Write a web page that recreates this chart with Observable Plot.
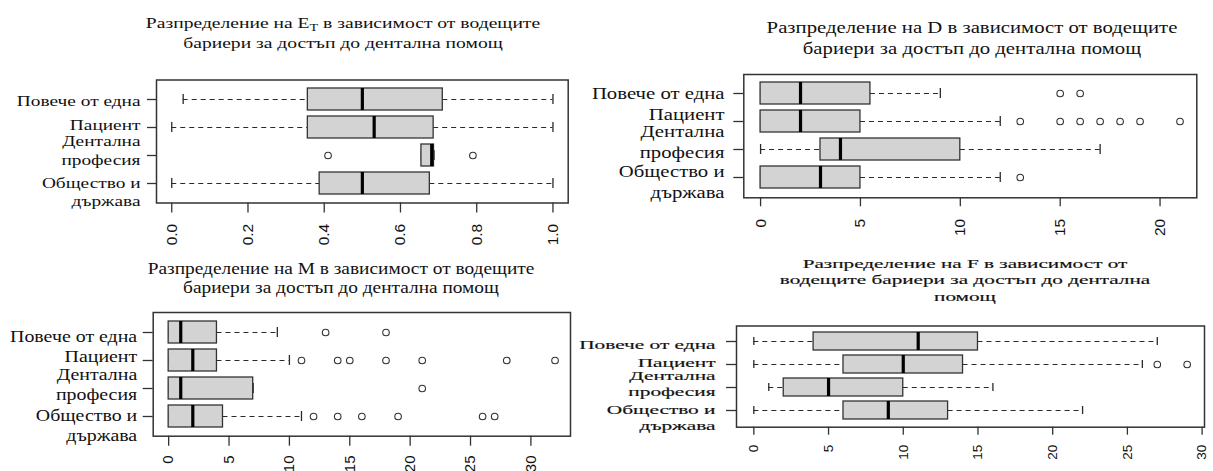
<!DOCTYPE html>
<html><head><meta charset="utf-8">
<script src="https://cdn.jsdelivr.net/npm/d3@7"></script>
<script src="https://cdn.jsdelivr.net/npm/@observablehq/plot@0.6"></script>
<style>
body{margin:0;background:#fff;}
#page{position:relative;width:1213px;height:471px;overflow:hidden;background:#fff;}
.panel{position:absolute;}
.title{position:absolute;width:640px;text-align:center;white-space:nowrap;color:#111;font-family:"Liberation Serif",serif;}
</style></head><body><div id="page"></div>
<script>
// ---- data ----
const categories = ["Повече от една", "Пациент", "Дентална професия", "Общество и държава"];
const categoryLabels = ["Повече от една", "Пациент", "Дентална\nпрофесия", "Общество и\nдържава"];

// E_T
const etLow = [0.03, 0, 0.655, 0];
const etQ1 = [0.357, 0.357, 0.655, 0.388];
const etMedian = [0.50, 0.531, 0.682, 0.50];
const etQ3 = [0.711, 0.687, 0.688, 0.677];
const etHigh = [1, 1, 0.688, 1];
const etOutliers = [[], [], [0.41, 0.79], []];
const etTicks = [0, 0.2, 0.4, 0.6, 0.8, 1.0];
const etTitle = ["Разпределение на E<span style=\"font-size:0.72em;position:relative;top:0.28em\">T</span> в зависимост от водещите", "бариери за достъп до дентална помощ"];

// D
const dLow = [0, 0, 0, 0];
const dQ1 = [0, 0, 3, 0];
const dMedian = [2, 2, 4, 3];
const dQ3 = [5.5, 5, 10, 5];
const dHigh = [9, 12, 17, 12];
const dOutliers = [[15, 16], [13, 15, 16, 17, 18, 19, 21], [], [13]];
const dTicks = [0, 5, 10, 15, 20];
const dTitle = ["Разпределение на D в зависимост от водещите", "бариери за достъп до дентална помощ"];

// M
const mLow = [0, 0, 0, 0];
const mQ1 = [0, 0, 0, 0];
const mMedian = [1, 2, 1, 2];
const mQ3 = [4, 4, 7, 4.5];
const mHigh = [9, 10, 7, 11];
const mOutliers = [[13, 18], [11, 14, 15, 18, 21, 28, 32], [21], [12, 14, 16, 19, 26, 27]];
const mTicks = [0, 5, 10, 15, 20, 25, 30];
const mTitle = ["Разпределение на M в зависимост от водещите", "бариери за достъп до дентална помощ"];

// F
const fLow = [0, 0, 1, 0];
const fQ1 = [4, 6, 2, 6];
const fMedian = [11, 10, 5, 9];
const fQ3 = [15, 14, 10, 13];
const fHigh = [27, 26, 16, 22];
const fOutliers = [[], [27, 29], [], []];
const fTicks = [0, 5, 10, 15, 20, 25, 30];
const fTitle = ["Разпределение на F в зависимост от", "водещите бариери за достъп до дентална", "помощ"];

// ---- layout / style ----
const panels = [
  {low: etLow, q1: etQ1, median: etMedian, q3: etQ3, high: etHigh, outliers: etOutliers, ticks: etTicks, fmt: d3.format(".1f"), title: etTitle,
   left: 0, top: 55, width: 590, height: 200, mt: 24.5, mr: 22.3, mb: 52.5, ml: 156,
   labelGap: 16, labelSize: 15, lineHeight: 1.22, stretch: 1.29, labelDy: [0.7, -3.7, -5.8, 7.7], heavy: 0,
   yTick: 9, xTick: 10, xPad: 10.8, tickFont: 15.5, cap: 6,
   t: {cx: 343, y1: 23.3, lh: 18.4, f: 15.3, s: 1.28, heavy: 0}},
  {low: dLow, q1: dQ1, median: dMedian, q3: dQ3, high: dHigh, outliers: dOutliers, ticks: dTicks, fmt: d3.format("d"), title: dTitle,
   left: 590, top: 55, width: 623, height: 200, mt: 19, mr: 16.7, mb: 57.7, ml: 153.3,
   labelGap: 19.3, labelSize: 17, lineHeight: 1.22, stretch: 1.22, labelDy: [-1.5, -8.5, -8.3, 3.7], heavy: 0,
   yTick: 10, xTick: 9, xPad: 12, tickFont: 15.5, cap: 6,
   t: {cx: 972, y1: 27.3, lh: 21, f: 17, s: 1.22, heavy: 0}},
  {low: mLow, q1: mQ1, median: mMedian, q3: mQ3, high: mHigh, outliers: mOutliers, ticks: mTicks, fmt: d3.format("d"), title: mTitle,
   left: 0, top: 300, width: 590, height: 171, mt: 12, mr: 20, mb: 35.3, ml: 152.7,
   labelGap: 16, labelSize: 16.3, lineHeight: 1.23, stretch: 1.22, labelDy: [2.6, -5, -5, 8], heavy: 0,
   yTick: 10, xTick: 10, xPad: 9.3, tickFont: 15, cap: 6,
   t: {cx: 341, y1: 268.3, lh: 19.4, f: 16, s: 1.21, heavy: 0}},
  {low: fLow, q1: fQ1, median: fMedian, q3: fQ3, high: fHigh, outliers: fOutliers, ticks: fTicks, fmt: d3.format("d"), title: fTitle,
   left: 575, top: 305, width: 638, height: 166, mt: 20.5, mr: 9, mb: 44.3, ml: 161,
   labelGap: 21, labelSize: 13.5, lineHeight: 1.19, stretch: 1.58, labelDy: [2, -2.5, -4.3, 6.5], heavy: 0.18,
   yTick: 10, xTick: 8, xPad: 9.6, tickFont: 13.5, cap: 5,
   t: {cx: 965, y1: 264.3, lh: 16.2, f: 13.5, s: 1.57, heavy: 0.18}}
];

const page = document.getElementById("page");

function drawPanel(p) {
  const rows = categories.map((c, i) => ({cat: c, label: categoryLabels[i], low: p.low[i], q1: p.q1[i], med: p.median[i], q3: p.q3[i], high: p.high[i]}));
  const outl = categories.flatMap((c, i) => p.outliers[i].map(v => ({cat: c, v})));
  const [mn, mx] = d3.extent([...p.low, ...p.high, ...outl.map(d => d.v)]);
  const pad = (mx - mn) * 0.04;
  const ink = "#2a2a2a";
  const labelStyle = p.heavy ? {stroke: "#111", strokeWidth: p.heavy} : {};
  const marks = [
    Plot.ruleY(rows, {y: "cat", x1: "low", x2: "q1", stroke: ink, strokeWidth: 1.2, strokeDasharray: "5,4"}),
    Plot.ruleY(rows, {y: "cat", x1: "q3", x2: "high", stroke: ink, strokeWidth: 1.2, strokeDasharray: "5,4"}),
    Plot.tickX(rows, {y: "cat", x: "low", insetTop: p.cap, insetBottom: p.cap, stroke: ink, strokeWidth: 1.3}),
    Plot.tickX(rows, {y: "cat", x: "high", insetTop: p.cap, insetBottom: p.cap, stroke: ink, strokeWidth: 1.3}),
    Plot.barX(rows, {y: "cat", x1: "q1", x2: "q3", fill: "#d3d3d3", stroke: "#333", strokeWidth: 1.3}),
    Plot.tickX(rows, {y: "cat", x: "med", stroke: "#000", strokeWidth: 3.2}),
    Plot.dot(outl, {y: "cat", x: "v", r: 3.3, stroke: "#333", strokeWidth: 1.1, fill: "none"}),
    Plot.frame({stroke: "#333", strokeWidth: 1.5}),
    Plot.axisX({ticks: p.ticks, tickFormat: p.fmt, tickSize: p.xTick, tickPadding: p.xPad, tickRotate: -90, label: null, stroke: "#333", strokeWidth: 1.3, fill: "#111"}),
    Plot.axisY({tickSize: p.yTick, tickFormat: () => "", label: null, stroke: "#333", strokeWidth: 1.3}),
    ...rows.map((r, i) => Plot.text([r], {y: "cat", text: "label", frameAnchor: "left", textAnchor: "end", dx: -p.labelGap, dy: p.labelDy[i], lineHeight: p.lineHeight, fontSize: p.labelSize, fontFamily: "Liberation Serif", fill: "#111", ...labelStyle}))
  ];
  const svg = Plot.plot({
    width: p.width, height: p.height,
    marginTop: p.mt, marginRight: p.mr, marginBottom: p.mb, marginLeft: p.ml,
    x: {domain: [mn - pad, mx + pad]},
    y: {domain: categories, paddingInner: 0.2, paddingOuter: 0.26},
    style: {background: "transparent", overflow: "visible", fontFamily: "Liberation Sans", fontSize: p.tickFont + "px", color: "#111"},
    marks
  });
  // widen the category labels horizontally, like the stretched original figure
  svg.querySelectorAll('g[aria-label="text"] text').forEach(t => {
    const tr = t.getAttribute("transform");
    if (tr) t.setAttribute("transform", tr + ` scale(${p.stretch},1)`);
    else {
      const x = +t.getAttribute("x") || 0, y = +t.getAttribute("y") || 0;
      t.removeAttribute("x"); t.removeAttribute("y");
      t.setAttribute("transform", `translate(${x},${y}) scale(${p.stretch},1)`);
    }
  });
  const holder = document.createElement("div");
  holder.className = "panel";
  holder.style.left = p.left + "px";
  holder.style.top = p.top + "px";
  holder.appendChild(svg);
  page.appendChild(holder);

  const t = document.createElement("div");
  t.className = "title";
  t.style.left = (p.t.cx - 320) + "px";
  t.style.top = (p.t.y1 - p.t.lh / 2) + "px";
  t.style.fontSize = p.t.f + "px";
  t.style.lineHeight = p.t.lh + "px";
  t.style.transform = `scaleX(${p.t.s})`;
  t.style.transformOrigin = "50% 50%";
  if (p.t.heavy) t.style.webkitTextStroke = p.t.heavy + "px #111";
  t.innerHTML = p.title.join("<br>");
  page.appendChild(t);
}

panels.forEach(drawPanel);
</script>
</body></html>
